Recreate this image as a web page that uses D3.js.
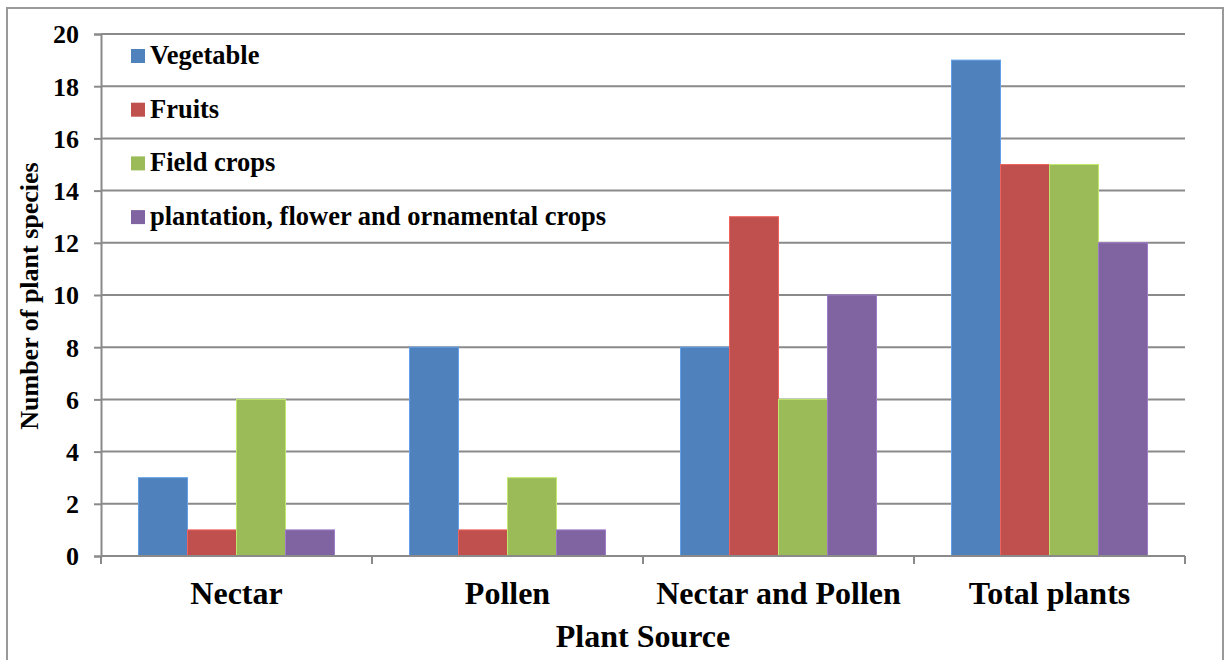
<!DOCTYPE html>
<html>
  <head>
    <title>Plant sources</title>
    <script src="https://d3js.org/d3.v7.min.js"></script>
  </head>
  <body style="margin:0; background:#fff">
    <svg width='1225' height='660'></svg>
    <script>
      const categories = ['Nectar', 'Pollen', 'Nectar and Pollen', 'Total plants'];
      const seriesNames = ['Vegetable', 'Fruits', 'Field crops', 'plantation, flower and ornamental crops'];
      const vegetable = [3, 8, 8, 19];
      const fruits = [1, 1, 13, 15];
      const fieldCrops = [6, 3, 6, 15];
      const plantation = [1, 1, 10, 12];
      const yTicks = [0, 2, 4, 6, 8, 10, 12, 14, 16, 18, 20];
      const colors = ['#4F81BD', '#C0504D', '#9BBB59', '#8064A2'];

      const series = [vegetable, fruits, fieldCrops, plantation];
      const FONT = 'Liberation Serif';

      const svg = d3.select('svg');
      const margin = {top: 34, left: 101};
      const innerWidth = 1185 - margin.left;
      const innerHeight = 556 - margin.top;

      // cadre extérieur
      svg.append('rect')
        .attr('x', 7).attr('y', 8)
        .attr('width', 1216).attr('height', 660)
        .attr('fill', 'none')
        .attr('stroke', '#999')
        .attr('stroke-width', 2);

      const g = svg.append('g')
        .attr('transform', `translate(${margin.left},${margin.top})`);

      const xScale = d3.scaleBand()
        .domain(categories)
        .range([0, innerWidth]);
      const inner = d3.scaleBand()
        .domain(d3.range(series.length))
        .range([37.5, xScale.bandwidth() - 37.5]);
      const yScale = d3.scaleLinear()
        .domain([0, 20])
        .range([innerHeight, 0]);

      // lignes de grille
      g.append('g').selectAll('line')
        .data(yTicks.filter(d => d > 0))
        .enter().append('line')
        .attr('x1', 0).attr('x2', innerWidth)
        .attr('y1', d => yScale(d)).attr('y2', d => yScale(d))
        .attr('stroke', '#8a8a8a')
        .attr('stroke-width', 2);

      // barres
      const groups = g.append('g').selectAll('g')
        .data(categories)
        .enter().append('g')
        .attr('transform', d => `translate(${xScale(d)},0)`);
      groups.selectAll('rect')
        .data((c, ci) => series.map((s, si) => ({si, v: s[ci]})))
        .enter().append('rect')
        .attr('x', d => inner(d.si))
        .attr('width', inner.bandwidth())
        .attr('y', d => yScale(d.v))
        .attr('height', d => innerHeight - yScale(d.v))
        .attr('fill', d => colors[d.si])
        .attr('stroke', d => d3.color(colors[d.si]).brighter(0.6))
        .attr('stroke-width', 1);

      // axe y
      const yAxis = d3.axisLeft(yScale).tickValues(yTicks).tickSize(7).tickPadding(15);
      const yAxisG = g.append('g').call(yAxis);
      yAxisG.select('.domain').attr('stroke', '#8a8a8a').attr('stroke-width', 2);
      yAxisG.selectAll('.tick line').attr('stroke', '#8a8a8a').attr('stroke-width', 2);
      yAxisG.selectAll('.tick text')
        .attr('fill', '#000')
        .attr('dy', '0.34em')
        .attr('font-family', FONT)
        .attr('font-weight', 'bold')
        .attr('font-size', 26);

      // axe x
      const xAxisG = g.append('g').attr('transform', `translate(0,${innerHeight})`);
      xAxisG.append('line')
        .attr('x1', 0).attr('x2', innerWidth)
        .attr('stroke', '#8a8a8a').attr('stroke-width', 2);
      xAxisG.selectAll('.sep')
        .data(d3.range(categories.length + 1))
        .enter().append('line')
        .attr('x1', i => i * xScale.step()).attr('x2', i => i * xScale.step())
        .attr('y1', 0).attr('y2', 8)
        .attr('stroke', '#8a8a8a').attr('stroke-width', 2);
      xAxisG.selectAll('.lbl')
        .data(categories)
        .enter().append('text')
        .attr('x', d => xScale(d) + xScale.bandwidth() / 2)
        .attr('y', 48)
        .attr('text-anchor', 'middle')
        .attr('font-family', FONT)
        .attr('font-weight', 'bold')
        .attr('font-size', 32)
        .text(d => d);

      // titres des axes
      svg.append('text')
        .attr('x', 643).attr('y', 647)
        .attr('text-anchor', 'middle')
        .attr('font-family', FONT)
        .attr('font-weight', 'bold')
        .attr('font-size', 32)
        .text('Plant Source');
      svg.append('text')
        .attr('transform', 'translate(38,296) rotate(-90)')
        .attr('text-anchor', 'middle')
        .attr('font-family', FONT)
        .attr('font-weight', 'bold')
        .attr('font-size', 26)
        .text('Number of plant species');

      // légende
      const legend = svg.append('g').attr('transform', 'translate(131,56)');
      const items = legend.selectAll('g')
        .data(seriesNames)
        .enter().append('g')
        .attr('transform', (d, i) => `translate(0,${i * 53.7})`);
      items.append('rect')
        .attr('x', 0).attr('y', -7)
        .attr('width', 14).attr('height', 14)
        .attr('fill', (d, i) => colors[i]);
      items.append('text')
        .attr('x', 19).attr('y', 8)
        .attr('font-family', FONT)
        .attr('font-weight', 'bold')
        .attr('font-size', 26.5)
        .text(d => d);
    </script>
  </body>
</html>
